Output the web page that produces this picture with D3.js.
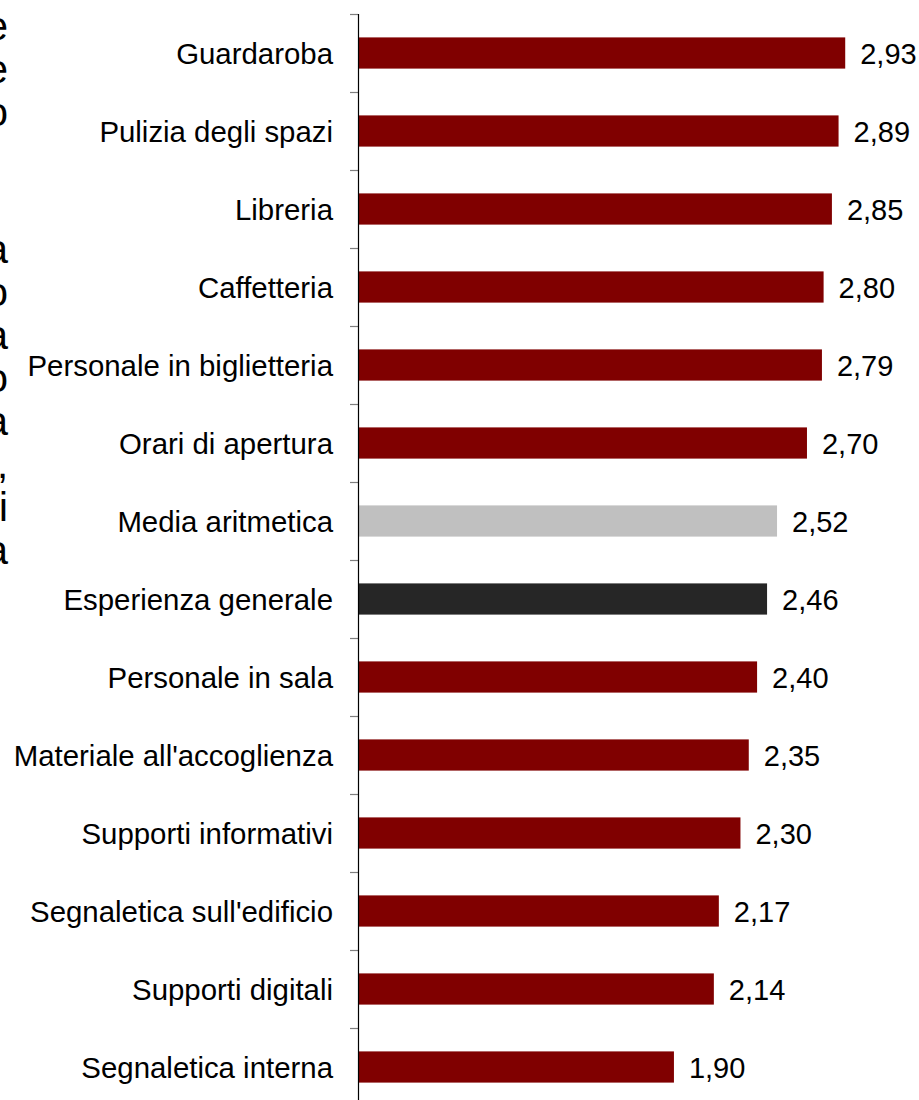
<!DOCTYPE html>
<html>
<head>
<meta charset="utf-8">
<script src="https://cdn.jsdelivr.net/npm/d3@7"></script>
<style>
  html, body { margin: 0; padding: 0; background: #fff; }
  svg { display: block; }
  text { font-family: "Liberation Sans", Arial, sans-serif; fill: #000; }
</style>
</head>
<body>
<svg id="chart" width="919" height="1100"></svg>
<script>
// Service ratings, top to bottom
const categories = [
  "Guardaroba",
  "Pulizia degli spazi",
  "Libreria",
  "Caffetteria",
  "Personale in biglietteria",
  "Orari di apertura",
  "Media aritmetica",
  "Esperienza generale",
  "Personale in sala",
  "Materiale all'accoglienza",
  "Supporti informativi",
  "Segnaletica sull'edificio",
  "Supporti digitali",
  "Segnaletica interna"
];
const values = [2.93, 2.89, 2.85, 2.80, 2.79, 2.70, 2.52, 2.46, 2.40, 2.35, 2.30, 2.17, 2.14, 1.90];
const barKinds = ["item", "item", "item", "item", "item", "item", "mean", "overall",
                  "item", "item", "item", "item", "item", "item"];

// Line endings of the adjoining text column, clipped by the page edge
const sideTextUpper = ["e", "e", "o"];
const sideTextLower = ["a", "o", "a", "o", "a", ",", "i", "a"];

const colors = { item: "#800000", mean: "#c0c0c0", overall: "#262626" };

const svg = d3.select("#chart");
const axisX = 358;

const x = d3.scaleLinear().domain([0, 3.5]).range([axisX, 940]);
const y = d3.scaleBand()
  .domain(categories)
  .range([14, 14 + 78 * categories.length])
  .paddingInner(0.6)
  .paddingOuter(0.3);

const fmt = d3.formatLocale({ decimal: ",", thousands: ".", grouping: [3], currency: ["", "€"] }).format(".2f");

const data = categories.map((c, i) => ({ name: c, value: values[i], kind: barKinds[i] }));

// Bars
svg.append("g")
  .selectAll("rect")
  .data(data)
  .join("rect")
  .attr("x", x(0))
  .attr("y", d => y(d.name))
  .attr("width", d => x(d.value) - x(0))
  .attr("height", y.bandwidth())
  .attr("fill", d => colors[d.kind]);

// Value labels
svg.append("g")
  .selectAll("text")
  .data(data)
  .join("text")
  .attr("x", d => x(d.value) + 15)
  .attr("y", d => y(d.name) + y.bandwidth() / 2 + 11)
  .attr("font-size", 29)
  .text(d => fmt(d.value));

// Category labels
svg.append("g")
  .selectAll("text")
  .data(data)
  .join("text")
  .attr("x", axisX - 25)
  .attr("y", d => y(d.name) + y.bandwidth() / 2 + 10.5)
  .attr("text-anchor", "end")
  .attr("font-size", 29.4)
  .text(d => d.name);

// Vertical axis with tick marks on category boundaries
const r0 = y.range()[0];
const boundaries = d3.range(categories.length + 1).map(i => r0 + i * y.step());
const axis = svg.append("g");
axis.selectAll("line.tick")
  .data(boundaries)
  .join("line")
  .attr("class", "tick")
  .attr("x1", axisX - 8)
  .attr("x2", axisX)
  .attr("y1", d => d + 0.5)
  .attr("y2", d => d + 0.5)
  .attr("stroke", "#7f7f7f")
  .attr("stroke-width", 1.2);
axis.append("line")
  .attr("x1", axisX + 0.5)
  .attr("x2", axisX + 0.5)
  .attr("y1", r0)
  .attr("y2", y.range()[1])
  .attr("stroke", "#000")
  .attr("stroke-width", 1.2);

// Clipped side text
svg.append("g")
  .selectAll("text")
  .data(sideTextUpper)
  .join("text")
  .attr("x", 8)
  .attr("y", (d, i) => 40 + i * 43)
  .attr("text-anchor", "end")
  .attr("font-size", 40)
  .text(d => d);
svg.append("g")
  .selectAll("text")
  .data(sideTextLower)
  .join("text")
  .attr("x", 8)
  .attr("y", (d, i) => 263 + i * 43)
  .attr("text-anchor", "end")
  .attr("font-size", 40)
  .text(d => d);
</script>
</body>
</html>
